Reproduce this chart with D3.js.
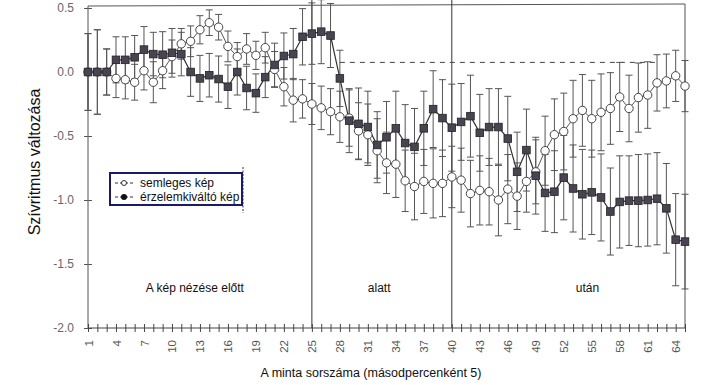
<!DOCTYPE html>
<html>
<head>
<meta charset="utf-8">
<script src="https://cdn.jsdelivr.net/npm/d3@7"></script>
<style>
  body { margin: 0; background: #fff; }
  svg { display: block; font-family: "Liberation Sans", Arial, sans-serif; }
</style>
</head>
<body>
<div id="chart"></div>
<script>
// semleges kép (open circles)
const semleges = [
  0.0, 0.0, 0.0, -0.05, -0.06, -0.08, 0.01, -0.08, 0.01, 0.12,
  0.22, 0.24, 0.33, 0.385, 0.35, 0.20, 0.12, 0.18, 0.13, 0.19,
  0.02, -0.115, -0.22, -0.21, -0.25, -0.28, -0.31, -0.35, -0.36, -0.46,
  -0.49, -0.615, -0.71, -0.72, -0.85, -0.895, -0.855, -0.87, -0.87, -0.82,
  -0.845, -0.95, -0.925, -0.935, -1.0, -0.915, -0.97, -0.855, -0.78, -0.615,
  -0.49, -0.465, -0.365, -0.30, -0.365, -0.315, -0.285, -0.195, -0.285, -0.20,
  -0.18, -0.085, -0.07, -0.03, -0.11
];
const semlegesErr = [
  0.30, 0.33, 0.18, 0.15, 0.15, 0.14, 0.15, 0.16, 0.14, 0.13,
  0.12, 0.12, 0.11, 0.10, 0.10, 0.12, 0.11, 0.12, 0.11, 0.12,
  0.14, 0.15, 0.17, 0.15, 0.16, 0.17, 0.18, 0.20, 0.22, 0.22,
  0.24, 0.25, 0.24, 0.26, 0.24, 0.26, 0.25, 0.27, 0.26, 0.24,
  0.25, 0.26, 0.27, 0.26, 0.28, 0.27, 0.26, 0.24, 0.25, 0.27,
  0.28, 0.30, 0.30, 0.28, 0.30, 0.30, 0.28, 0.27, 0.26, 0.27,
  0.26, 0.22, 0.21, 0.20, 0.20
];
// érzelemkiváltó kép (filled squares)
const erzelmi = [
  0.0, 0.0, 0.0, 0.095, 0.095, 0.115, 0.175, 0.14, 0.135, 0.15,
  0.14, 0.0, -0.05, -0.025, -0.055, -0.115, 0.0, -0.125, -0.165, -0.04,
  0.055, 0.125, 0.14, 0.275, 0.30, 0.315, 0.285, -0.05, -0.38, -0.405,
  -0.43, -0.57, -0.51, -0.44, -0.555, -0.585, -0.44, -0.29, -0.36, -0.435,
  -0.39, -0.345, -0.475, -0.43, -0.43, -0.52, -0.78, -0.61, -0.81, -0.945,
  -0.935, -0.825, -0.91, -0.955, -0.94, -0.98, -1.09, -1.015, -1.005, -1.005,
  -1.0, -0.99, -1.065, -1.31, -1.325
];
const erzelmiErr = [
  0.30, 0.33, 0.18, 0.18, 0.18, 0.17, 0.18, 0.17, 0.18, 0.19,
  0.17, 0.19, 0.18, 0.17, 0.18, 0.17, 0.18, 0.17, 0.15, 0.16,
  0.17, 0.18, 0.20, 0.22, 0.24, 0.25, 0.25, 0.22, 0.25, 0.28,
  0.28, 0.26, 0.28, 0.29, 0.30, 0.30, 0.29, 0.30, 0.30, 0.34,
  0.30, 0.32, 0.30, 0.30, 0.30, 0.33, 0.31, 0.32, 0.30, 0.30,
  0.32, 0.33, 0.34, 0.35, 0.33, 0.34, 0.34, 0.36, 0.35, 0.36,
  0.36, 0.36, 0.35, 0.36, 0.37
];
const xTickLabels = [1, 4, 7, 10, 13, 16, 19, 22, 25, 28, 31, 34, 37, 40, 43, 46, 49, 52, 55, 58, 61, 64];
const yTicks = [0.5, 0.0, -0.5, -1.0, -1.5, -2.0];
const phaseBreaks = [25, 40];
const phaseLabels = [
  { text: "A kép nézése előtt", at: 7.2 },
  { text: "alatt", at: 31.0 },
  { text: "után", at: 53.3 }
];
const baseline = { from: 28, to: 62, value: 0.075 };

const W = 720, H = 385;
const samples = semleges.map((_, i) => i + 1);

const svg = d3.select("#chart").append("svg")
  .attr("width", W)
  .attr("height", H);

const x = d3.scaleLinear().domain([1, 65]).range([88, 685]);
const y = d3.scaleLinear().domain([-2, 0.5]).range([328, 8]);
const frameTop = 4;

// frame
svg.append("line").attr("x1", 88).attr("x2", 685).attr("y1", frameTop + 2).attr("y2", frameTop)
  .attr("stroke", "#555").attr("stroke-width", 1);
svg.append("line").attr("x1", 685).attr("x2", 685).attr("y1", frameTop).attr("y2", y(-2))
  .attr("stroke", "#555").attr("stroke-width", 1);

// phase separators
svg.selectAll(".phase")
  .data(phaseBreaks)
  .enter()
  .append("line")
  .attr("x1", d => x(d)).attr("x2", d => x(d))
  .attr("y1", 0).attr("y2", y(-2))
  .attr("stroke", "#333").attr("stroke-width", 1);

// dashed reference
svg.append("line")
  .attr("x1", x(baseline.from)).attr("x2", x(baseline.to))
  .attr("y1", y(baseline.value)).attr("y2", y(baseline.value))
  .attr("stroke", "#444").attr("stroke-dasharray", "5,5");

// y axis
const yAxis = svg.append("g")
  .attr("transform", "translate(88,0)")
  .call(d3.axisLeft(y).tickValues(yTicks).tickSize(4).tickPadding(10)
    .tickFormat(d => d3.format(".1f")(d).replace("−", "-")));
yAxis.select(".domain").attr("d", `M0,${frameTop + 2}V${y(-2)}`).attr("stroke", "#555");
yAxis.selectAll(".tick line").attr("x1", 4).attr("stroke", "#555");
yAxis.selectAll("text").attr("fill", "#666").style("font-size", "12px");

// x axis: a cross tick at every sample, labels every third
const xMinor = svg.append("g")
  .attr("transform", `translate(0,${y(-2)})`)
  .call(d3.axisBottom(x).tickValues(samples).tickSize(4).tickFormat(""));
xMinor.select(".domain").attr("d", `M88,0H685`).attr("stroke", "#444");
xMinor.selectAll(".tick line").attr("y1", -4).attr("stroke", "#444");

const xLab = svg.append("g")
  .attr("transform", `translate(0,${y(-2)})`)
  .call(d3.axisBottom(x).tickValues(xTickLabels).tickSize(0).tickFormat(d3.format("d")));
xLab.select(".domain").remove();
xLab.selectAll("text")
  .attr("transform", "rotate(-90)")
  .attr("x", -12).attr("y", 0).attr("dy", "0.35em")
  .style("text-anchor", "end")
  .style("font-size", "11.5px")
  .attr("fill", "#555");

// error bars
function errorBars(vals, errs, cls) {
  const g = svg.append("g").attr("class", cls);
  const rows = vals.map((v, i) => ({ i: i + 1, lo: v - errs[i], hi: v + errs[i] }));
  g.selectAll(".stem").data(rows).enter().append("line")
    .attr("x1", d => x(d.i)).attr("x2", d => x(d.i))
    .attr("y1", d => y(d.lo)).attr("y2", d => y(d.hi))
    .attr("stroke", "#555").attr("stroke-width", 1);
  g.selectAll(".capHi").data(rows).enter().append("line")
    .attr("x1", d => x(d.i) - 3.5).attr("x2", d => x(d.i) + 3.5)
    .attr("y1", d => y(d.hi)).attr("y2", d => y(d.hi))
    .attr("stroke", "#555").attr("stroke-width", 1);
  g.selectAll(".capLo").data(rows).enter().append("line")
    .attr("x1", d => x(d.i) - 3.5).attr("x2", d => x(d.i) + 3.5)
    .attr("y1", d => y(d.lo)).attr("y2", d => y(d.lo))
    .attr("stroke", "#555").attr("stroke-width", 1);
}
errorBars(semleges, semlegesErr, "err-s");
errorBars(erzelmi, erzelmiErr, "err-e");

const line = d3.line().x((d, i) => x(i + 1)).y(d => y(d));

svg.append("path").datum(semleges)
  .attr("d", line).attr("fill", "none")
  .attr("stroke", "#555").attr("stroke-width", 1);
svg.append("path").datum(erzelmi)
  .attr("d", line).attr("fill", "none")
  .attr("stroke", "#333").attr("stroke-width", 1.2);

svg.selectAll(".circ").data(semleges).enter().append("circle")
  .attr("cx", (d, i) => x(i + 1)).attr("cy", d => y(d))
  .attr("r", 4.2)
  .attr("fill", "#fff").attr("stroke", "#444").attr("stroke-width", 1);

svg.selectAll(".sq").data(erzelmi).enter().append("rect")
  .attr("x", (d, i) => x(i + 1) - 3.8).attr("y", d => y(d) - 3.8)
  .attr("width", 7.6).attr("height", 7.6)
  .attr("fill", "#4a4352").attr("stroke", "#222").attr("stroke-width", 0.8);

// phase labels
svg.selectAll(".plabel").data(phaseLabels).enter().append("text")
  .attr("x", d => x(d.at)).attr("y", 292)
  .style("font-size", "12px").attr("fill", "#111")
  .text(d => d.text);

// legend
svg.append("line").attr("x1", 243).attr("x2", 243).attr("y1", 167).attr("y2", 213)
  .attr("stroke", "#333").attr("stroke-dasharray", "2,1.5");
svg.append("rect").attr("x", 110).attr("y", 173).attr("width", 132).attr("height", 32)
  .attr("fill", "#fff").attr("stroke", "#1c1a64").attr("stroke-width", 2);
svg.append("line").attr("x1", 115).attr("x2", 134).attr("y1", 183).attr("y2", 183)
  .attr("stroke", "#333").attr("stroke-dasharray", "3,2");
svg.append("circle").attr("cx", 124).attr("cy", 183).attr("r", 2.5)
  .attr("fill", "#fff").attr("stroke", "#333");
svg.append("line").attr("x1", 115).attr("x2", 134).attr("y1", 197).attr("y2", 197)
  .attr("stroke", "#333").attr("stroke-dasharray", "3,2");
svg.append("circle").attr("cx", 124).attr("cy", 197).attr("r", 3)
  .attr("fill", "#111");
svg.append("text").attr("x", 140).attr("y", 187).style("font-size", "12px").attr("fill", "#111")
  .text("semleges kép");
svg.append("text").attr("x", 140).attr("y", 201).style("font-size", "12px").attr("fill", "#111")
  .text("érzelemkiváltó kép");

// axis titles
svg.append("text")
  .attr("transform", "translate(40,162) rotate(-90)")
  .style("text-anchor", "middle")
  .style("font-size", "16px")
  .attr("fill", "#111")
  .text("Szívritmus változása");

svg.append("text")
  .attr("x", 371).attr("y", 377)
  .style("text-anchor", "middle")
  .style("font-size", "12.5px")
  .attr("fill", "#111")
  .text("A minta sorszáma (másodpercenként 5)");
</script>
</body>
</html>
